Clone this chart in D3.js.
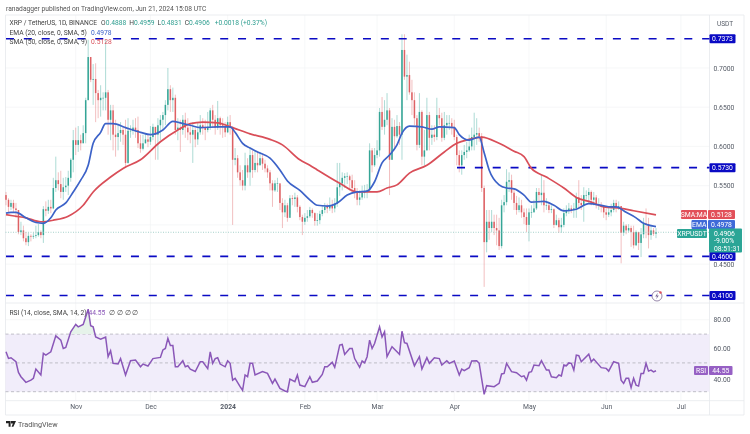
<!DOCTYPE html>
<html><head><meta charset="utf-8">
<script src="https://cdnjs.cloudflare.com/ajax/libs/d3/7.8.5/d3.min.js"></script>
<style>html,body{margin:0;background:#fff}svg{display:block;font-family:Roboto,sans-serif;filter:blur(.4px)}</style>
</head><body><svg id="c" width="750" height="434"></svg>
<script>
const startDate = "2023-10-04";
const firstOpen = 0.538;
const closes = [
.532,.523,.528,.521,.519,.491,.493,.483,.478,.486,
.485,.486,.487,.491,.487,.520,.518,.523,.521,.547,
.557,.552,.542,.548,.550,.560,.583,.608,.602,.608,
.604,.617,.659,.714,.685,.686,.668,.659,.662,.662,
.669,.634,.646,.615,.612,.617,.621,.615,.579,.620,
.620,.624,.621,.604,.597,.604,.609,.606,.612,.625,
.615,.627,.634,.640,.653,.673,.659,.662,.621,.624,
.621,.634,.624,.618,.615,.621,.609,.618,.627,.624,
.621,.625,.646,.634,.624,.636,.627,.625,.618,.631,
.624,.583,.585,.567,.557,.550,.576,.567,.589,.570,
.579,.576,.585,.578,.572,.567,.553,.544,.553,.553,
.528,.516,.525,.509,.534,.533,.535,.523,.510,.504,
.509,.511,.519,.515,.505,.506,.514,.519,.523,.521,
.525,.521,.527,.548,.553,.560,.562,.562,.557,.547,
.541,.532,.535,.541,.542,.544,.595,.576,.589,.595,
.644,.625,.634,.646,.583,.625,.613,.626,.615,.723,
.689,.691,.669,.659,.636,.602,.644,.587,.595,.640,
.611,.615,.612,.640,.636,.611,.627,.630,.630,.625,
.612,.589,.576,.589,.593,.595,.600,.612,.615,.617,
.613,.547,.478,.504,.496,.504,.496,.493,.473,.525,
.529,.555,.557,.541,.528,.519,.525,.516,.510,.500,
.516,.516,.521,.542,.538,.541,.525,.525,.519,.520,
.500,.506,.497,.500,.515,.519,.521,.519,.521,.535,
.528,.525,.538,.538,.542,.532,.535,.525,.525,.523,
.516,.513,.516,.519,.528,.523,.524,.490,.499,.493,
.496,.491,.474,.491,.477,.488,.502,.501,.487,.493,.4888,.4906];
const highs = [
.542,.534,.532,.532,.528,.516,.504,.499,.491,.490,
.488,.490,.499,.501,.493,.524,.530,.532,.532,.560,
.587,.567,.569,.560,.561,.569,.585,.621,.624,.626,
.615,.627,.662,.736,.714,.705,.706,.672,.678,.669,
.736,.672,.653,.653,.634,.627,.631,.625,.634,.636,
.627,.634,.636,.638,.615,.615,.616,.615,.626,.629,
.624,.636,.640,.644,.659,.700,.678,.675,.666,.636,
.634,.640,.643,.636,.627,.631,.624,.631,.640,.636,
.634,.644,.649,.653,.640,.658,.638,.636,.631,.638,
.640,.626,.598,.589,.576,.570,.592,.585,.598,.595,
.595,.593,.593,.589,.583,.576,.570,.557,.557,.560,
.550,.534,.532,.528,.538,.538,.541,.538,.525,.513,
.515,.519,.523,.521,.516,.515,.518,.525,.528,.527,
.535,.532,.534,.579,.579,.567,.566,.567,.564,.564,
.557,.547,.544,.550,.551,.552,.604,.598,.598,.608,
.649,.663,.659,.668,.649,.636,.634,.640,.631,.743,
.743,.717,.708,.685,.669,.640,.668,.646,.621,.662,
.644,.627,.627,.662,.649,.643,.644,.640,.640,.636,
.634,.615,.595,.595,.602,.606,.615,.624,.643,.636,
.624,.617,.550,.519,.519,.519,.513,.513,.509,.532,
.538,.571,.567,.564,.547,.537,.535,.532,.521,.521,
.521,.525,.532,.547,.547,.564,.557,.534,.528,.525,
.521,.513,.509,.509,.521,.525,.528,.525,.528,.541,
.557,.538,.548,.544,.547,.544,.542,.538,.534,.529,
.525,.521,.523,.527,.532,.532,.530,.524,.504,.501,
.501,.499,.499,.493,.491,.496,.509,.521,.509,.500,.496,.4959];
const lows = [
.525,.516,.519,.516,.509,.488,.487,.479,.474,.473,
.479,.482,.483,.485,.483,.477,.511,.514,.515,.520,
.542,.544,.534,.532,.542,.538,.555,.567,.589,.593,
.595,.608,.604,.659,.682,.653,.631,.636,.638,.646,
.646,.615,.608,.595,.587,.595,.606,.602,.575,.578,
.611,.615,.611,.598,.592,.595,.604,.599,.602,.608,
.583,.583,.608,.621,.627,.646,.644,.644,.615,.608,
.593,.615,.611,.608,.604,.579,.599,.602,.615,.615,
.608,.618,.621,.624,.615,.621,.615,.611,.612,.617,
.615,.500,.576,.560,.550,.544,.544,.560,.550,.560,
.567,.567,.576,.570,.567,.560,.544,.523,.542,.542,
.519,.496,.510,.504,.513,.525,.523,.516,.506,.487,
.500,.504,.509,.509,.499,.499,.501,.511,.515,.515,
.518,.515,.516,.523,.537,.544,.547,.552,.544,.542,
.534,.525,.525,.532,.534,.534,.542,.567,.574,.585,
.587,.621,.615,.627,.538,.583,.595,.611,.602,.583,
.685,.659,.666,.640,.627,.595,.598,.576,.576,.595,
.595,.602,.606,.608,.627,.606,.608,.615,.621,.615,
.608,.576,.567,.564,.583,.585,.593,.595,.595,.602,
.606,.542,.421,.465,.481,.491,.487,.474,.468,.470,
.516,.525,.542,.532,.519,.513,.516,.509,.501,.491,
.479,.509,.516,.519,.528,.525,.516,.519,.515,.515,
.496,.499,.490,.490,.497,.511,.514,.515,.509,.509,
.521,.519,.504,.532,.528,.525,.525,.521,.519,.516,
.509,.506,.510,.511,.516,.516,.519,.451,.486,.488,
.491,.472,.470,.473,.468,.459,.483,.483,.470,.481,.486,.4831];

const emaDays = [0,2,4,8,12,15,18,20,24,27,30,33,35,38,40,43,48,54,58,63,67,70,74,78,85,90,92,95,98,101,106,110,113,118,122,125,129,133,137,141,145,148,151,154,157,159,162,167,171,174,180,182,186,190,192,194,198,201,204,208,211,216,220,224,229,234,239,243,245,249,253,256,261];
const emaValues = [.515,.516,.516,.509,.503,.502,.509,.519,.528,.542,.557,.576,.604,.618,.629,.629,.624,.618,.615,.621,.632,.630,.627,.624,.625,.625,.618,.604,.598,.593,.585,.570,.556,.544,.532,.525,.524,.528,.538,.542,.543,.555,.579,.589,.602,.617,.626,.625,.622,.625,.624,.615,.608,.612,.592,.570,.551,.547,.546,.538,.529,.530,.525,.518,.520,.527,.525,.523,.523,.516,.509,.502,.4978];
const smaDays = [0,4,8,14,19,25,31,35,42,47,54,62,69,74,79,85,91,98,106,111,118,122,125,134,141,149,153,157,162,169,176,181,186,191,198,204,208,211,217,224,229,235,240,247,252,261];
const smaValues = [.513,.511,.509,.504,.506,.511,.525,.542,.561,.572,.583,.606,.621,.629,.631,.630,.624,.616,.609,.602,.583,.576,.570,.553,.542,.542,.547,.551,.566,.576,.593,.604,.609,.612,.604,.594,.587,.572,.561,.547,.535,.529,.523,.521,.518,.5128];
const rsiDays = [0,1,2,4,5,6,8,10,11,12,14,15,16,18,20,22,23,24,26,28,29,31,33,34,35,36,38,40,41,42,43,45,46,48,50,52,54,55,57,59,62,63,64,65,66,67,68,69,71,72,73,74,76,78,79,81,82,83,84,85,86,88,89,90,91,92,94,95,96,97,98,99,100,103,105,107,108,110,112,113,114,116,117,118,120,122,123,125,127,128,129,131,132,134,135,136,138,139,140,142,143,144,145,146,147,148,150,151,152,153,155,157,158,159,160,161,164,166,167,169,170,172,174,175,177,178,180,182,183,184,186,187,189,190,192,193,196,198,199,200,201,203,205,207,208,209,210,211,212,214,215,217,218,219,221,222,223,224,225,226,227,228,229,230,231,234,235,236,239,241,242,244,246,247,248,249,250,251,252,253,254,255,256,257,258,259,260,261];
const rsiValues = [57.7,53.1,53.6,50.8,43.4,40.4,36.5,38,39.3,45.7,41.6,56.6,55.4,57.7,68.8,65.8,60,60.7,71.6,76.7,75,76.7,87.3,75.8,75,68,66.5,68,54.3,58.4,49.7,49.2,53,41.6,51.5,52,47.3,49.2,47.8,53,53.8,59,60,67,62,62,47.3,47.3,51.5,47.3,48,45.7,44,50.8,50.8,46,57.7,49.7,53,53.6,49.2,47.3,51.5,49.7,38,39.3,33.5,31,41.6,40.4,49.7,49.7,41.6,44,42.7,35.8,38.8,32.3,30.5,30,38.8,37,41.6,34.6,33.5,40.4,36.5,37.4,42,47.3,47.3,50.4,46.9,62.4,62.8,55.9,60,60,53,46.9,51.3,50,54.3,65.8,60,63.5,75,68,71.6,54.3,61.2,57.7,55.9,72,64,63.5,48,54.3,45.7,53.6,49.7,53.6,53,48.5,51.5,49.7,51.3,41.6,45.7,44.6,46.7,51.3,51.5,49.7,28.2,34.2,33.5,35.8,42.3,42.7,49.7,43.9,43.2,40.4,41,38,43.4,43.9,48.5,48,51.5,45,45,40.4,39.7,41.6,40.9,48.5,48,50,49.7,45,55.4,55,50.8,56.1,50.8,52.7,46.7,46.2,44.3,50.8,49.7,38,35.8,39.3,39.3,32.8,39.3,34.6,33.9,42.7,42.7,49.7,44.3,45,43.7,44.55];

const priceTicks = [0.7,0.65,0.6,0.55,0.45];
const levels = [0.7373,0.46,0.41];
const midLevel = 0.573;
const rsiTicks = [80,60,40];
const rsiBands = [70,50,30];
const monthDates = ["2023-11-01","2023-12-01","2024-01-01","2024-02-01","2024-03-01","2024-04-01","2024-05-01","2024-06-01","2024-07-01"];
const monthNames = ["Nov","Dec","2024","Feb","Mar","Apr","May","Jun","Jul"];

const UP="#35a596",DOWN="#de6164",BLUE="#3c62c8",RED="#d94e58",NAVY="#0a0ac4",PURPLE="#8a57b8",TXT="#555b66";
const svg=d3.select("#c");
const L=5.5,R=709.5,FR=744;
const DAY=864e5,t0=Date.parse(startDate+"T00:00:00Z");
const dayDate=d=>new Date(t0+d*DAY);
const x=d3.scaleUtc().domain([dayDate(0),dayDate(261)]).range([6,656]);
const y=d3.scaleLinear().domain([0.7,0.41]).range([68,295.5]);
const ry=d3.scaleLinear().domain([80,40]).range([319.7,377.3]);
const mDates=monthDates.map(s=>new Date(s+"T00:00:00Z"));

const fs=(s,t,xx,yy,o={})=>s.append("text").attr("x",xx).attr("y",yy).attr("fill",o.fill||TXT).attr("font-size",o.size||7).attr("font-weight",o.w||400).attr("text-anchor",o.a||"start").text(t);

// grid
const g=svg.append("g").attr("stroke","#f2f3f5").attr("stroke-width",.7);
g.selectAll("line.v").data(mDates).join("line").attr("x1",d=>x(d)).attr("x2",d=>x(d)).attr("y1",15).attr("y2",400.5);
g.selectAll("line.h").data([...priceTicks,0.5]).join("line").attr("x1",L).attr("x2",R).attr("y1",d=>y(d)).attr("y2",d=>y(d));
g.selectAll("line.r").data(rsiTicks).join("line").attr("x1",L).attr("x2",R).attr("y1",d=>ry(d)).attr("y2",d=>ry(d));

// frame
const fr=svg.append("g").attr("stroke","#e6e8ec").attr("stroke-width",.8);
[[L,15,L,415],[R,15,R,415],[FR,15,FR,415],[L,303,FR,303],[L,400.7,FR,400.7],[L,415,FR,415],[L,15,FR,15]].forEach(a=>fr.append("line").attr("x1",a[0]).attr("y1",a[1]).attr("x2",a[2]).attr("y2",a[3]));

// candles
const data=closes.map((c,i)=>({d:dayDate(i),o:i?closes[i-1]:firstOpen,c,h:highs[i],l:lows[i]}));
const col=d=>d.c>=d.o?UP:DOWN;
svg.append("g").selectAll("line").data(data).join("line").attr("x1",d=>x(d.d)).attr("x2",d=>x(d.d)).attr("y1",d=>y(d.h)).attr("y2",d=>y(d.l)).attr("stroke",col).attr("stroke-opacity",.45).attr("stroke-width",.9);
svg.append("g").selectAll("rect").data(data).join("rect").attr("x",d=>x(d.d)-.75).attr("width",1.5).attr("y",d=>y(Math.max(d.o,d.c))).attr("height",d=>Math.max(.6,Math.abs(y(d.o)-y(d.c)))).attr("fill",col);

// price line
svg.append("line").attr("x1",L).attr("x2",R).attr("y1",y(closes[261])).attr("y2",y(closes[261])).attr("stroke","#7fbdb4").attr("stroke-width",.7).attr("stroke-dasharray","1 1.5");

// support / resistance
const dash="8 9.85";
svg.append("g").selectAll("line").data(levels).join("line").attr("x1",6).attr("x2",R).attr("y1",d=>y(d)).attr("y2",d=>y(d)).attr("stroke",NAVY).attr("stroke-width",1.7).attr("stroke-dasharray",dash);
svg.append("line").attr("x1",457).attr("x2",R).attr("y1",y(midLevel)).attr("y2",y(midLevel)).attr("stroke",NAVY).attr("stroke-width",1.7).attr("stroke-dasharray",dash);

// MAs
const ln=d3.line().x(d=>x(dayDate(d[0]))).y(d=>y(d[1])).curve(d3.curveMonotoneX);
svg.append("path").attr("d",ln(smaDays.map((d,i)=>[d,smaValues[i]]))).attr("fill","none").attr("stroke",RED).attr("stroke-width",1.7);
svg.append("path").attr("d",ln(emaDays.map((d,i)=>[d,emaValues[i]]))).attr("fill","none").attr("stroke",BLUE).attr("stroke-width",1.7);

// RSI
svg.append("rect").attr("x",L).attr("width",R-L).attr("y",ry(70)).attr("height",ry(30)-ry(70)).attr("fill","#f1edfa");
svg.append("g").selectAll("line").data(rsiBands).join("line").attr("x1",L).attr("x2",R).attr("y1",d=>ry(d)).attr("y2",d=>ry(d)).attr("stroke","#a9a9b2").attr("stroke-width",.7).attr("stroke-dasharray","3 2.5");
const rsiPts=rsiDays.map((d,i)=>[d,rsiValues[i]]);
svg.append("clipPath").attr("id","ob").append("rect").attr("x",L).attr("y",303).attr("width",R-L).attr("height",ry(70)-303);
svg.append("path").attr("clip-path","url(#ob)").attr("fill","#e6f3ea").attr("d",d3.area().x(d=>x(dayDate(d[0]))).y0(ry(70)).y1(d=>ry(d[1]))(rsiPts));
svg.append("path").attr("d",d3.line().x(d=>x(dayDate(d[0]))).y(d=>ry(d[1]))(rsiPts)).attr("fill","none").attr("stroke",PURPLE).attr("stroke-width",1.5);

// axes
const pa=svg.append("g").attr("transform",`translate(${R},0)`).call(d3.axisRight(y).tickValues(priceTicks).tickFormat(d3.format(".4f")).tickSize(0).tickPadding(4));
const ra=svg.append("g").attr("transform",`translate(${R},0)`).call(d3.axisRight(ry).tickValues(rsiTicks).tickFormat(d3.format(".2f")).tickSize(0).tickPadding(4));
const ta=svg.append("g").attr("transform","translate(0,400.7)").call(d3.axisBottom(x).tickValues(mDates).tickFormat((d,i)=>monthNames[i]).tickSize(0).tickPadding(3.5));
[pa,ra,ta].forEach(a=>{a.select(".domain").remove();a.selectAll("text").attr("fill",TXT).attr("font-size",6.8).attr("font-family","Roboto,sans-serif");});
ta.selectAll("text").filter((d,i)=>i===2).attr("font-weight",700);
ra.selectAll(".tick text").filter(d=>d===40).attr("dy","0.62em");
fs(svg,"USDT",717,25.5,{size:6.5});

// right labels
const box=(x0,y0,w,h,f,t,o={})=>{svg.append("rect").attr("x",x0).attr("y",y0).attr("width",w).attr("height",h).attr("rx",1).attr("fill",f);
  fs(svg,t,o.tx||x0+w/2,y0+h/2+2.4,{fill:"#fff",size:o.size||6.8,a:"middle"});};
[[.7373],[.573],[.46],[.41]].forEach(a=>box(709.5,y(a[0])-4.5,26,9,NAVY,a[0].toFixed(4)));
box(681,210,26,9,"#e2505a","SMA:MA");box(708,210,27,9,"#e2505a","0.5128");
box(691.5,220,15.5,9,"#3f6ad8","EMA");box(708,220,27,9,"#3f6ad8","0.4978");
box(677,229,30,9,"#2ba596","XRPUSDT");
svg.append("rect").attr("x",709).attr("y",228.5).attr("width",33).attr("height",24).attr("rx",1).attr("fill","#2ba596");
fs(svg,"0.4906",714,235.5,{fill:"#fff",size:6.8});fs(svg,"-9.00%",714,243,{fill:"#fff",size:6.8});fs(svg,"08:51:31",714,250.5,{fill:"#fff",size:6.8});
box(694,366,14,9,"#9660c4","RSI");box(709,366,23.5,9,"#9660c4","44.55");

// legends
const seg=(yy,parts)=>{const t=svg.append("text").attr("x",9.5).attr("y",yy).attr("font-size",6.7);parts.forEach(p=>t.append("tspan").attr("fill",p[1]).attr("dx",p[2]||0).text(p[0]));};
fs(svg,"ranadagger published on TradingView.com, Jun 21, 2024 15:08 UTC",6,10.5,{size:6.7,fill:"#555"});
const TEAL="#2f9e90";
seg(25,[["XRP / TetherUS, 1D, BINANCE","#444"],["O","#444",4],["0.4888",TEAL],["H","#444",3],["0.4959",TEAL],["L","#444",3],["0.4831",TEAL],["C","#444",3],["0.4906",TEAL],["+0.0018 (+0.37%)",TEAL,5]]);
seg(34.5,[["EMA (20, close, 0, SMA, 5)","#444"],["0.4978",BLUE,4]]);
seg(44,[["SMA (50, close, 0, SMA, 9)","#444"],["0.5128",RED,4]]);
seg(314.5,[["RSI (14, close, SMA, 14, 2)","#444"],["44.55",PURPLE,2],["∅ ∅ ∅ ∅","#444",4]]);

// alert icon
svg.append("circle").attr("cx",657).attr("cy",296).attr("r",5).attr("fill","#fff").attr("stroke","#7d6a96").attr("stroke-width",.8);
svg.append("path").attr("d","M657.8 292.8l-2.6 3.6h1.8l-.8 2.8 2.6-3.6h-1.8z").attr("fill","#7d6a96");
svg.append("circle").attr("cx",660.5).attr("cy",292.5).attr("r",1.2).attr("fill","#e2505a");

// footer
svg.append("path").attr("d","M6 421h4.6v5.8H8.6v-3.6H6zM11 421h5l-2.6 5.8h-1.8l1.3-3.4H11z").attr("fill","#222");
fs(svg,"TradingView",18,426.5,{size:7.2,fill:"#555"});
</script></body></html>
